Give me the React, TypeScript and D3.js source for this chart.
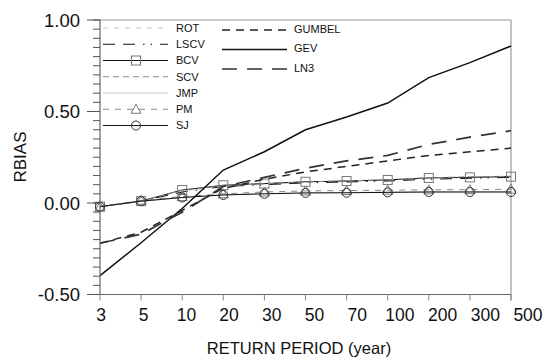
import React from "react";
import * as d3 from "d3";

const categories = ["3", "5", "10", "20", "30", "50", "70", "100", "200", "300", "500"];
const ROT = [-0.02, 0.012, 0.065, 0.095, 0.105, 0.115, 0.122, 0.128, 0.138, 0.142, 0.147];
const LSCV = [-0.02, 0.01, 0.06, 0.09, 0.1, 0.11, 0.115, 0.12, 0.13, 0.135, 0.14];
const BCV = [-0.02, 0.01, 0.071, 0.097, 0.106, 0.116, 0.12, 0.126, 0.137, 0.14, 0.144];
const SCV = [-0.02, 0.012, 0.07, 0.095, 0.105, 0.115, 0.121, 0.127, 0.138, 0.143, 0.146];
const JMP = [-0.02, 0.008, 0.03, 0.045, 0.052, 0.055, 0.057, 0.06, 0.062, 0.062, 0.063];
const PM = [-0.02, 0.015, 0.035, 0.05, 0.06, 0.066, 0.068, 0.07, 0.072, 0.073, 0.075];
const SJ = [-0.02, 0.01, 0.03, 0.044, 0.05, 0.055, 0.056, 0.058, 0.06, 0.06, 0.06];
const GUMBEL = [-0.22, -0.16, -0.04, 0.08, 0.13, 0.17, 0.2, 0.23, 0.26, 0.28, 0.3];
const GEV = [-0.397, -0.217, -0.03, 0.18, 0.28, 0.4, 0.47, 0.546, 0.685, 0.767, 0.858];
const LN3 = [-0.22, -0.17, -0.05, 0.09, 0.14, 0.19, 0.23, 0.26, 0.32, 0.36, 0.395];
const yMajorTicks = [-0.5, 0, 0.5, 1.0];
const yTickLabels = ["-0.50", "0.00", "0.50", "1.00"];

type S = { name: string; data: number[]; stroke: string; width: number; dash?: string; marker?: "square" | "circle" | "triangle"; markerStroke?: string };

const seriesLeft: S[] = [
  { name: "ROT", data: ROT, stroke: "#c4c4c4", width: 1, dash: "5,6" },
  { name: "LSCV", data: LSCV, stroke: "#111", width: 1, dash: "12,8,12,8,1.5,6,1.5,8" },
  { name: "BCV", data: BCV, stroke: "#111", width: 1, marker: "square", markerStroke: "#777" },
  { name: "SCV", data: SCV, stroke: "#888", width: 1, dash: "6,4" },
  { name: "JMP", data: JMP, stroke: "#c8c8c8", width: 1 },
  { name: "PM", data: PM, stroke: "#888", width: 1, dash: "6,6", marker: "triangle", markerStroke: "#777" },
  { name: "SJ", data: SJ, stroke: "#111", width: 1, marker: "circle", markerStroke: "#333" },
];
const seriesRight: S[] = [
  { name: "GUMBEL", data: GUMBEL, stroke: "#222", width: 1.5, dash: "8,6" },
  { name: "GEV", data: GEV, stroke: "#111", width: 1.5 },
  { name: "LN3", data: LN3, stroke: "#333", width: 1.7, dash: "15,10" },
];

const FONT = "'Liberation Sans', Arial, sans-serif";

function Marker({ type, x, y, stroke }: { type: string; x: number; y: number; stroke: string }) {
  if (type === "square") return <rect x={x - 4.5} y={y - 4.5} width={9} height={9} fill="none" stroke={stroke} strokeWidth={1} />;
  if (type === "circle") return <circle cx={x} cy={y} r={4.5} fill="none" stroke={stroke} strokeWidth={1} />;
  const p = `${x},${y - 5} ${x + 5},${y + 4} ${x - 5},${y + 4}`;
  return <polygon points={p} fill="none" stroke={stroke} strokeWidth={1} />;
}

export default function App() {
  const W = 545, H = 359;
  const left = 100, right = 511, top = 20, bottom = 294.5;
  const x = d3.scalePoint<string>().domain(categories).range([left, right]);
  const y = d3.scaleLinear().domain([-0.5, 1]).range([bottom, top]);
  const line = d3.line<number>().x((_, i) => x(categories[i])!).y((d) => y(d));
  const minor = d3.range(-0.5, 1.0001, 0.05).map((v) => Math.round(v * 100) / 100);
  const allSeries = [...seriesLeft, ...seriesRight];
  const labelX = (i: number) => 101 + i * 42.7;

  return (
    <svg width={W} height={H} style={{ position: "absolute", left: 0, top: 0, background: "#fff" }} fontFamily={FONT}>
      <line x1={left} x2={right} y1={top} y2={top} stroke="#999" strokeWidth={1} />
      <line x1={right} x2={right} y1={top} y2={bottom + 6} stroke="#999" strokeWidth={1.2} />
      {allSeries.map((s) => (
        <g key={s.name}>
          <path d={line(s.data)!} fill="none" stroke={s.stroke} strokeWidth={s.width} strokeDasharray={s.dash} />
          {s.marker && s.data.map((v, i) => <Marker key={i} type={s.marker!} x={x(categories[i])!} y={y(v)} stroke={s.markerStroke!} />)}
        </g>
      ))}
      <line x1={left} x2={left} y1={top} y2={bottom} stroke="#666" strokeWidth={1.2} />
      <line x1={left} x2={right} y1={bottom} y2={bottom} stroke="#666" strokeWidth={1.2} />
      {minor.map((v) => (
        <line key={v} x1={left - 7} x2={left} y1={y(v)} y2={y(v)} stroke="#555" strokeWidth={1} />
      ))}
      {yMajorTicks.map((v, i) => (
        <g key={v}>
          <line x1={left - 13} x2={left} y1={y(v)} y2={y(v)} stroke="#555" strokeWidth={1} />
          <text x={80} y={y(v)} dy="0.36em" textAnchor="end" fontSize={18.5} fill="#111">{yTickLabels[i]}</text>
        </g>
      ))}
      {categories.map((c, i) => (
        <g key={c}>
          <line x1={x(c)!} x2={x(c)!} y1={bottom} y2={bottom + 6} stroke="#888" strokeWidth={1} />
          <text x={labelX(i)} y={321} textAnchor="middle" fontSize={17.5} fill="#111">{c}</text>
        </g>
      ))}
      <text x={299} y={354} textAnchor="middle" fontSize={16.5} fill="#111">RETURN PERIOD (year)</text>
      <text transform={`translate(26,157) rotate(-90)`} textAnchor="middle" fontSize={17} fill="#111">RBIAS</text>
      {seriesLeft.map((s, i) => {
        const ly = 28 + i * 16.25;
        return (
          <g key={s.name}>
            <line x1={103} x2={168} y1={ly} y2={ly} stroke={s.stroke} strokeWidth={s.width} strokeDasharray={s.dash} />
            {s.marker && <Marker type={s.marker} x={136} y={ly} stroke={s.markerStroke!} />}
            <text x={176} y={ly} dy="0.35em" fontSize={11} fill="#111">{s.name}</text>
          </g>
        );
      })}
      {seriesRight.map((s, i) => {
        const ly = 30 + i * 19.5;
        return (
          <g key={s.name}>
            <line x1={222} x2={287} y1={ly} y2={ly} stroke={s.stroke} strokeWidth={s.width} strokeDasharray={s.dash} />
            <text x={294} y={ly - 1} dy="0.35em" fontSize={11} fill="#111">{s.name}</text>
          </g>
        );
      })}
    </svg>
  );
}
